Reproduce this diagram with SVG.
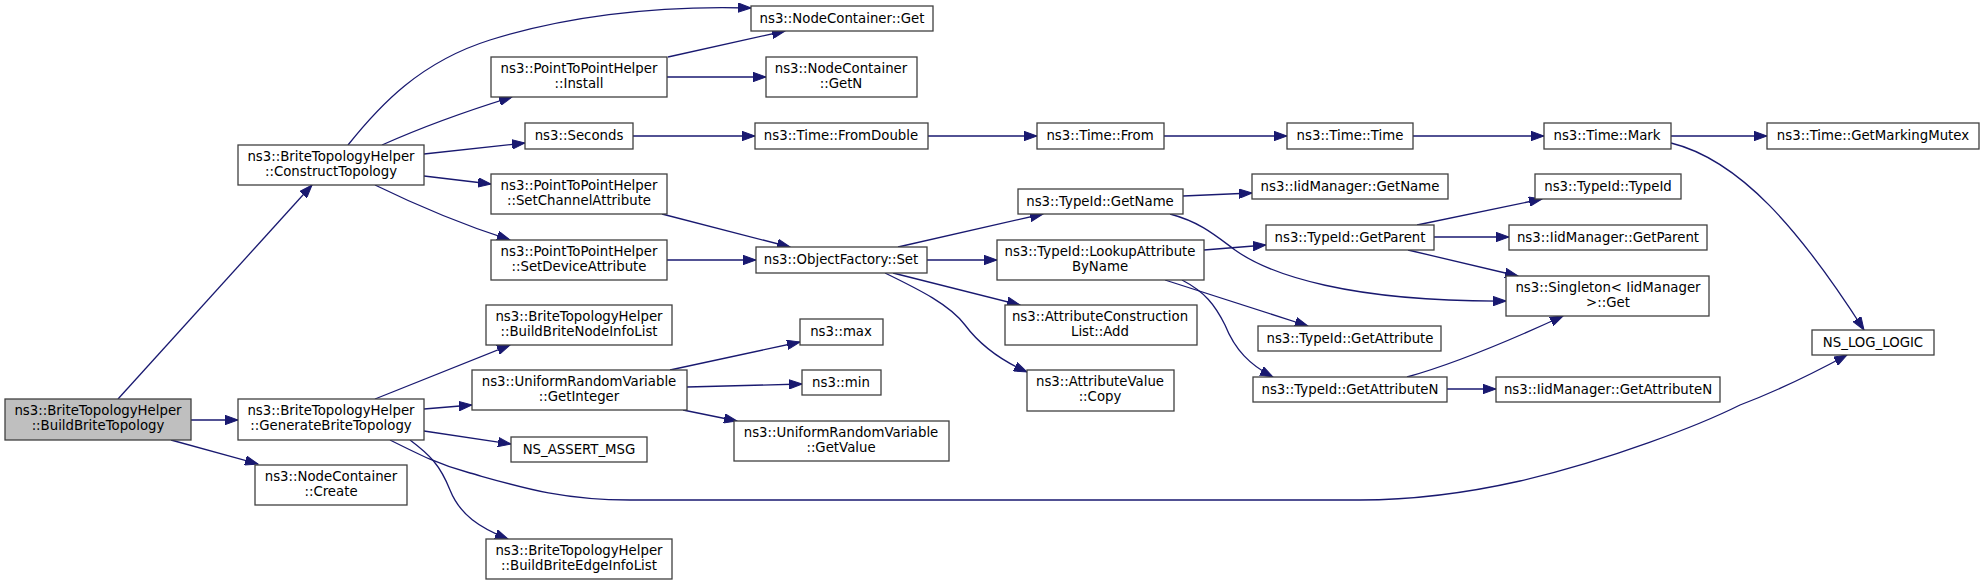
<svg xmlns="http://www.w3.org/2000/svg" width="1984" height="585" viewBox="0 0 1984 585">
<style>
.n rect{fill:#ffffff;stroke:#404040;stroke-width:1.3}
.n text{font-family:"DejaVu Sans",sans-serif;font-size:13.3px;fill:#000000;text-anchor:middle}
.root rect{fill:#bfbfbf}
.e path{fill:none;stroke:#191970;stroke-width:1.3;marker-end:url(#a)}
</style>
<defs>
<marker id="a" markerWidth="14" markerHeight="10" refX="13" refY="5" orient="auto" markerUnits="userSpaceOnUse">
<path d="M0,0.3 L13,5 L0,9.7 z" fill="#191970" stroke="#191970" stroke-width="1"/>
</marker>
</defs>
<rect width="1984" height="585" fill="#ffffff"/>
<g class="e" id="edges">
<path d="M118,399 L312,185"/>
<path d="M191,420 L238,420"/>
<path d="M171,440 L258,464"/>
<path d="M348,145 C380,105 420,62 490,40 C560,18 650,5 751,8"/>
<path d="M382,145 C420,128 470,110 512,97"/>
<path d="M424,154 L525,143"/>
<path d="M424,176 L491,184"/>
<path d="M375,185 C420,207 470,227 510,240"/>
<path d="M668,57 L785,31"/>
<path d="M667,77 L766,77"/>
<path d="M633,136 L755,136"/>
<path d="M928,136 L1037,136"/>
<path d="M1164,136 L1287,136"/>
<path d="M1413,136 L1544,136"/>
<path d="M1671,136 L1767,136"/>
<path d="M1671,143 C1740,160 1800,230 1864,330"/>
<path d="M662,214 L790,247"/>
<path d="M667,260 L756,260"/>
<path d="M898,247 L1043,214"/>
<path d="M927,260 L997,260"/>
<path d="M893,273 L1020,305"/>
<path d="M885,273 C920,290 950,305 965,325 C980,345 1000,360 1027,372"/>
<path d="M1183,196 L1252,193"/>
<path d="M1170,214 C1200,222 1215,235 1235,250 C1270,275 1350,302 1506,301"/>
<path d="M1204,250 L1266,245"/>
<path d="M1165,280 L1308,326"/>
<path d="M1182,280 C1205,292 1215,305 1225,325 C1235,350 1250,365 1273,377"/>
<path d="M1417,225 L1542,199"/>
<path d="M1434,237 L1509,237"/>
<path d="M1408,250 L1518,276"/>
<path d="M1407,377 C1450,365 1500,345 1563,316"/>
<path d="M1447,389 L1496,389"/>
<path d="M375,399 L510,345"/>
<path d="M424,409 L472,405"/>
<path d="M424,431 L511,444"/>
<path d="M390,440 C420,455 440,465 470,473 C520,487 560,500 630,500 L1360,500 C1420,500 1480,490 1520,481 C1610,460 1700,425 1740,405 C1780,390 1810,375 1847,355"/>
<path d="M410,440 C430,455 440,465 450,490 C460,515 480,528 508,539"/>
<path d="M670,370 L800,342"/>
<path d="M687,387 L802,384"/>
<path d="M683,410 L737,421"/>
</g>
<g class="n root" id="n_BuildBriteTopology"><rect x="5" y="399" width="186" height="41"/><text x="98" y="415">ns3::BriteTopologyHelper</text><text x="98" y="430">::BuildBriteTopology</text></g>
<g class="n" id="n_ConstructTopology"><rect x="238" y="145" width="186" height="40"/><text x="331" y="161">ns3::BriteTopologyHelper</text><text x="331" y="176">::ConstructTopology</text></g>
<g class="n" id="n_GenerateBriteTopology"><rect x="238" y="399" width="186" height="41"/><text x="331" y="415">ns3::BriteTopologyHelper</text><text x="331" y="430">::GenerateBriteTopology</text></g>
<g class="n" id="n_Create"><rect x="255" y="465" width="152" height="40"/><text x="331" y="481">ns3::NodeContainer</text><text x="331" y="496">::Create</text></g>
<g class="n" id="n_NCGet"><rect x="751" y="6" width="182" height="25"/><text x="842" y="23">ns3::NodeContainer::Get</text></g>
<g class="n" id="n_Install"><rect x="491" y="57" width="176" height="40"/><text x="579" y="73">ns3::PointToPointHelper</text><text x="579" y="88">::Install</text></g>
<g class="n" id="n_GetN"><rect x="766" y="57" width="151" height="40"/><text x="841" y="73">ns3::NodeContainer</text><text x="841" y="88">::GetN</text></g>
<g class="n" id="n_Seconds"><rect x="525" y="123" width="108" height="26"/><text x="579" y="140">ns3::Seconds</text></g>
<g class="n" id="n_FromDouble"><rect x="755" y="123" width="173" height="26"/><text x="841" y="140">ns3::Time::FromDouble</text></g>
<g class="n" id="n_From"><rect x="1037" y="123" width="127" height="26"/><text x="1100" y="140">ns3::Time::From</text></g>
<g class="n" id="n_Time"><rect x="1287" y="123" width="126" height="26"/><text x="1350" y="140">ns3::Time::Time</text></g>
<g class="n" id="n_Mark"><rect x="1544" y="123" width="127" height="26"/><text x="1607" y="140">ns3::Time::Mark</text></g>
<g class="n" id="n_GetMarkingMutex"><rect x="1767" y="123" width="212" height="26"/><text x="1873" y="140">ns3::Time::GetMarkingMutex</text></g>
<g class="n" id="n_SetChannelAttribute"><rect x="491" y="174" width="176" height="40"/><text x="579" y="190">ns3::PointToPointHelper</text><text x="579" y="205">::SetChannelAttribute</text></g>
<g class="n" id="n_SetDeviceAttribute"><rect x="491" y="240" width="176" height="40"/><text x="579" y="256">ns3::PointToPointHelper</text><text x="579" y="271">::SetDeviceAttribute</text></g>
<g class="n" id="n_OFSet"><rect x="756" y="247" width="171" height="26"/><text x="841" y="264">ns3::ObjectFactory::Set</text></g>
<g class="n" id="n_TIGetName"><rect x="1018" y="189" width="165" height="25"/><text x="1100" y="206">ns3::TypeId::GetName</text></g>
<g class="n" id="n_IMGetName"><rect x="1252" y="174" width="196" height="25"/><text x="1350" y="191">ns3::IidManager::GetName</text></g>
<g class="n" id="n_Lookup"><rect x="997" y="240" width="207" height="40"/><text x="1100" y="256">ns3::TypeId::LookupAttribute</text><text x="1100" y="271">ByName</text></g>
<g class="n" id="n_GetParent"><rect x="1266" y="225" width="168" height="25"/><text x="1350" y="242">ns3::TypeId::GetParent</text></g>
<g class="n" id="n_TypeId"><rect x="1535" y="174" width="146" height="25"/><text x="1608" y="191">ns3::TypeId::TypeId</text></g>
<g class="n" id="n_IMGetParent"><rect x="1509" y="225" width="198" height="25"/><text x="1608" y="242">ns3::IidManager::GetParent</text></g>
<g class="n" id="n_Singleton"><rect x="1506" y="276" width="203" height="40"/><text x="1608" y="292">ns3::Singleton&lt; IidManager</text><text x="1608" y="307">&gt;::Get</text></g>
<g class="n" id="n_NSLOG"><rect x="1812" y="330" width="122" height="25"/><text x="1873" y="347">NS_LOG_LOGIC</text></g>
<g class="n" id="n_ACLAdd"><rect x="1005" y="305" width="192" height="40"/><text x="1100" y="321">ns3::AttributeConstruction</text><text x="1100" y="336">List::Add</text></g>
<g class="n" id="n_GetAttribute"><rect x="1258" y="326" width="183" height="25"/><text x="1350" y="343">ns3::TypeId::GetAttribute</text></g>
<g class="n" id="n_AVCopy"><rect x="1027" y="370" width="147" height="41"/><text x="1100" y="386">ns3::AttributeValue</text><text x="1100" y="401">::Copy</text></g>
<g class="n" id="n_GetAttributeN"><rect x="1253" y="377" width="194" height="25"/><text x="1350" y="394">ns3::TypeId::GetAttributeN</text></g>
<g class="n" id="n_IMGetAttributeN"><rect x="1496" y="377" width="224" height="25"/><text x="1608" y="394">ns3::IidManager::GetAttributeN</text></g>
<g class="n" id="n_NodeInfo"><rect x="486" y="305" width="186" height="40"/><text x="579" y="321">ns3::BriteTopologyHelper</text><text x="579" y="336">::BuildBriteNodeInfoList</text></g>
<g class="n" id="n_GetInteger"><rect x="472" y="370" width="215" height="40"/><text x="579" y="386">ns3::UniformRandomVariable</text><text x="579" y="401">::GetInteger</text></g>
<g class="n" id="n_max"><rect x="800" y="319" width="83" height="26"/><text x="841" y="336">ns3::max</text></g>
<g class="n" id="n_min"><rect x="802" y="370" width="79" height="25"/><text x="841" y="387">ns3::min</text></g>
<g class="n" id="n_GetValue"><rect x="734" y="421" width="215" height="40"/><text x="841" y="437">ns3::UniformRandomVariable</text><text x="841" y="452">::GetValue</text></g>
<g class="n" id="n_Assert"><rect x="511" y="437" width="136" height="25"/><text x="579" y="454">NS_ASSERT_MSG</text></g>
<g class="n" id="n_EdgeInfo"><rect x="486" y="539" width="186" height="40"/><text x="579" y="555">ns3::BriteTopologyHelper</text><text x="579" y="570">::BuildBriteEdgeInfoList</text></g>
</svg>
